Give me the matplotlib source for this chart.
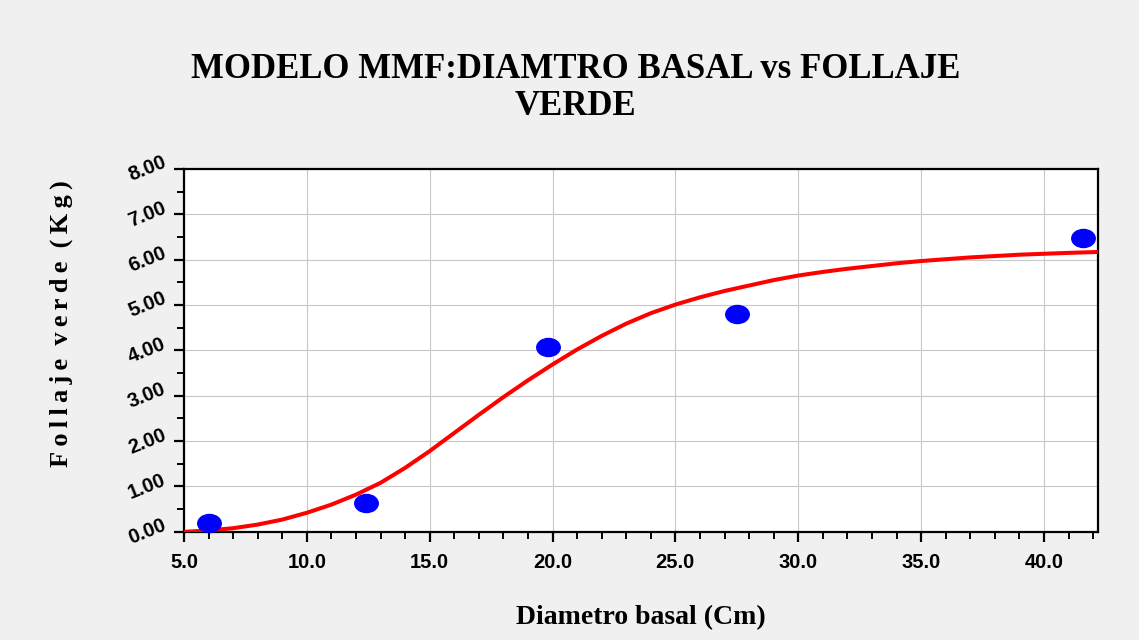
import numpy as np
import matplotlib
matplotlib.use("Agg")
import matplotlib.pyplot as plt
from matplotlib.markers import MarkerStyle
from matplotlib.transforms import Affine2D
from matplotlib.ticker import MultipleLocator, FormatStrFormatter

# observed points
diam_obs = [6.0, 12.4, 19.8, 27.5, 41.6]
follaje_obs = [0.20, 0.64, 4.08, 4.81, 6.47]

# fitted MMF curve
diam_fit = [5.0, 6.0, 7.0, 8.0, 9.0, 10.0, 11.0, 12.0, 13.0, 14.0, 15.0,
            16.0, 17.0, 18.0, 19.0, 20.0, 21.0, 22.0, 23.0, 24.0, 25.0,
            26.0, 27.0, 28.0, 29.0, 30.0, 31.0, 32.0, 33.0, 34.0, 35.0,
            36.0, 37.0, 38.0, 39.0, 40.0, 41.0, 42.2]
follaje_fit = [0.00, 0.03, 0.08, 0.16, 0.27, 0.42, 0.60, 0.82, 1.08, 1.41,
               1.78, 2.18, 2.58, 2.97, 3.34, 3.69, 4.02, 4.32, 4.59, 4.82,
               5.01, 5.17, 5.31, 5.43, 5.55, 5.65, 5.73, 5.80, 5.86, 5.92,
               5.97, 6.01, 6.05, 6.08, 6.11, 6.13, 6.15, 6.17]

bg = "#f0f0f0"
fig = plt.figure(figsize=(11.39, 6.4), dpi=100, facecolor=bg)
ax = fig.add_axes([0.1615, 0.169, 0.8025, 0.567])

ax.plot(diam_fit, follaje_fit, color="red", lw=2.9, zorder=3)
ell = MarkerStyle("o", transform=Affine2D().scale(1.3, 1.0))
ax.plot(diam_obs, follaje_obs, ls="none", marker=ell, ms=13, color="#0000ff",
        mec="#0000ff", zorder=4, clip_on=False)

ax.set_xlim(5, 42.2)
ax.set_ylim(0, 8)
ax.xaxis.set_major_locator(MultipleLocator(5))
ax.xaxis.set_minor_locator(MultipleLocator(1))
ax.yaxis.set_major_locator(MultipleLocator(1))
ax.yaxis.set_minor_locator(MultipleLocator(0.5))
ax.xaxis.set_major_formatter(FormatStrFormatter("%.1f"))
ax.yaxis.set_major_formatter(FormatStrFormatter("%.2f"))

ax.grid(True, which="major", color="#c8c8c8", lw=0.8)
ax.set_axisbelow(True)
for s in ax.spines.values():
    s.set_linewidth(1.6)
    s.set_color("black")

ax.tick_params(which="major", direction="out", length=7, width=1.6,
               top=False, right=False)
ax.tick_params(which="minor", direction="out", length=5, width=1.4,
               top=False, right=False)
for lab in ax.get_xticklabels():
    lab.set_fontfamily("Liberation Sans")
    lab.set_fontweight("bold")
    lab.set_fontsize(14.5)
for lab in ax.get_yticklabels():
    lab.set_fontfamily("Liberation Sans")
    lab.set_fontweight("bold")
    lab.set_fontsize(14.5)
    lab.set_rotation(22)
    lab.set_va("center")
ax.tick_params(axis="x", pad=8)
ax.tick_params(axis="y", pad=4)

ax.set_xlabel("Diametro basal (Cm)", fontfamily="Liberation Serif",
              fontweight="bold", fontsize=20, labelpad=24)
ylab = "  ".join("\u2009".join(w) for w in ["Follaje", "verde", "(Kg)"])
ax.set_ylabel(ylab, family=["Liberation Serif", "DejaVu Serif"],
              fontweight="bold", fontsize=19)
ax.yaxis.set_label_coords(-0.121, 0.575)

fig.text(0.505, 0.862, "MODELO MMF:DIAMTRO BASAL vs FOLLAJE\nVERDE",
         ha="center", va="center", fontfamily="Liberation Serif",
         fontweight="bold", fontsize=25, linespacing=1.15)

fig.savefig("out.png", dpi=100, facecolor=bg)
